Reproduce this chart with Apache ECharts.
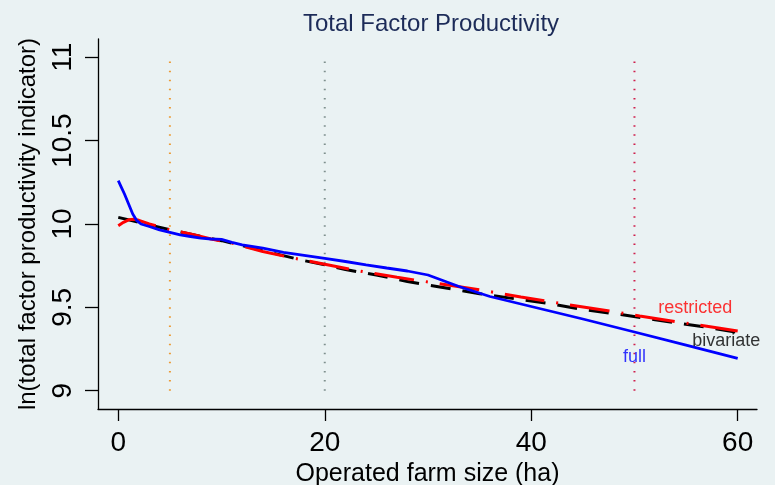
<!DOCTYPE html>
<html>
<head>
<meta charset="utf-8">
<title>Total Factor Productivity</title>
<script src="https://cdn.jsdelivr.net/npm/echarts@6/dist/echarts.min.js"></script>
<style>
  html, body { margin: 0; padding: 0; background: #eaf2f3; }
  #chart { width: 775px; height: 485px; }
</style>
</head>
<body>
<div id="chart"></div>
<script>
// Fitted ln(TFP) curves against operated farm size (ha)
const fullSize = [0, 0.3, 0.6, 1.0, 1.4, 1.8, 2.2, 3, 4, 5, 6, 7, 8, 9, 10, 11, 12, 14, 16, 18, 20, 22, 24, 26, 28, 30, 33, 36, 40, 45, 50, 55, 60];
const fullTfp = [10.26, 10.22, 10.18, 10.12, 10.06, 10.02, 10.0, 9.985, 9.965, 9.95, 9.935, 9.925, 9.915, 9.91, 9.908, 9.89, 9.875, 9.855, 9.83, 9.812, 9.794, 9.775, 9.755, 9.736, 9.718, 9.694, 9.625, 9.565, 9.505, 9.43, 9.352, 9.273, 9.194];

const bivariateSize = [0, 5, 10, 14, 18, 20, 22, 25, 28, 31, 35, 39, 42, 45, 49, 52, 56, 60];
const bivariateTfp = [10.04, 9.965, 9.90, 9.84, 9.78, 9.755, 9.727, 9.694, 9.655, 9.624, 9.582, 9.546, 9.52, 9.487, 9.454, 9.425, 9.39, 9.35];

const restrictedSize = [0, 0.5, 1, 1.5, 2, 3, 4, 5, 7, 9, 11, 14, 17, 20, 23, 27, 31, 35, 39, 43.7, 47.6, 50.5, 55, 60];
const restrictedTfp = [9.99, 10.01, 10.025, 10.028, 10.022, 10.0, 9.983, 9.965, 9.94, 9.91, 9.885, 9.835, 9.795, 9.758, 9.722, 9.68, 9.643, 9.605, 9.562, 9.515, 9.478, 9.448, 9.405, 9.358];

// Farm-size cut-offs marked with dotted reference lines, and their vertical extent
const cutoffs = [5, 20, 50];
const cutoffSpan = [9, 11];

// Axis ticks
const xTicks = [0, 20, 40, 60];
const yTicks = [9, 9.5, 10, 10.5, 11];

// Curve names written beside the lines
const curveNames = ['restricted', 'bivariate', 'full'];

const FONT = '"Liberation Sans", Arial, Helvetica, sans-serif';

function pairs(xs, ys) {
  return xs.map((x, i) => [x, ys[i]]);
}

const cutoffColors = ['#ec9a34', '#7f908e', '#cf1f4c'];
const cutoffSeries = cutoffs.map((c, i) => ({
  type: 'line',
  silent: true,
  symbol: 'none',
  data: cutoffSpan.map(v => [c, v]),
  lineStyle: { color: cutoffColors[i], width: 2, type: [1.5, 7.6] },
  z: 1
}));

// anchor points (in data units) for the curve names
const nameAnchor = {
  restricted: { at: [52.3, 9.497], color: '#ff0000' },
  bivariate: { at: [55.6, 9.299], color: '#000000' },
  full: { at: [48.9, 9.199], color: '#0000ff' }
};

const nameSeries = {
  type: 'scatter',
  silent: true,
  symbolSize: 0,
  data: curveNames.map(n => ({
    value: nameAnchor[n].at,
    name: n,
    label: { color: nameAnchor[n].color }
  })),
  label: {
    show: true,
    position: [0, 0],
    align: 'left',
    verticalAlign: 'middle',
    formatter: p => p.name,
    fontSize: 18,
    fontFamily: FONT
  },
  z: 5
};

const option = {
  backgroundColor: '#eaf2f3',
  animation: false,
  title: {
    text: 'Total Factor Productivity',
    left: 298,
    top: 7,
    textStyle: { fontSize: 24, fontWeight: 'normal', color: '#1c2b58', fontFamily: FONT }
  },
  grid: { left: 98, right: 18, top: 39, bottom: 76, outerBoundsMode: 'none' },
  xAxis: {
    type: 'value',
    min: -1.965,
    max: 61.87,
    name: 'Operated farm size (ha)',
    nameLocation: 'middle',
    nameGap: 51,
    nameTextStyle: { fontSize: 25, color: '#000', fontFamily: FONT },
    axisLine: { onZero: false, lineStyle: { color: '#000', width: 1.3 } },
    axisTick: { length: 12, lineStyle: { color: '#000', width: 1.3 }, customValues: xTicks },
    axisLabel: { customValues: xTicks, fontSize: 28, color: '#000', margin: 20, fontFamily: FONT },
    splitLine: { show: false }
  },
  yAxis: {
    type: 'value',
    min: 8.890,
    max: 11.110,
    name: 'ln(total factor productivity indicator)',
    nameLocation: 'middle',
    nameRotate: 90,
    nameGap: 58,
    nameTextStyle: { fontSize: 24, color: '#000', fontFamily: FONT },
    axisLine: { show: true, onZero: false, lineStyle: { color: '#000', width: 1.3 } },
    axisTick: { show: true, length: 13, lineStyle: { color: '#000', width: 1.3 }, customValues: yTicks },
    axisLabel: { customValues: yTicks, rotate: 90, fontSize: 28, color: '#000', margin: 21, fontFamily: FONT },
    splitLine: { show: false }
  },
  series: [
    ...cutoffSeries,
    {
      name: 'bivariate',
      type: 'line',
      symbol: 'none',
      data: pairs(bivariateSize, bivariateTfp),
      lineStyle: { color: '#000000', width: 3, type: [20, 12] },
      z: 2
    },
    {
      name: 'restricted',
      type: 'line',
      symbol: 'none',
      data: pairs(restrictedSize, restrictedTfp),
      lineStyle: { color: '#ff0000', width: 3, type: [40, 12, 2, 12] },
      z: 3
    },
    {
      name: 'full',
      type: 'line',
      symbol: 'none',
      data: pairs(fullSize, fullTfp),
      lineStyle: { color: '#0000ff', width: 2.8 },
      z: 4
    },
    nameSeries
  ]
};

const chart = echarts.init(document.getElementById('chart'));
chart.setOption(option);
</script>
</body>
</html>
